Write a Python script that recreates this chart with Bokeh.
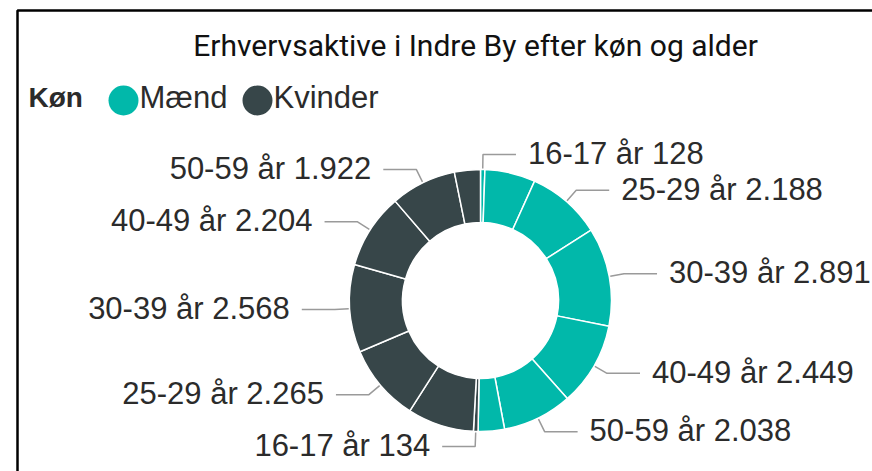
import numpy as np
from bokeh.plotting import figure
from bokeh.models import ColumnDataSource, Range1d, Label, BoxAnnotation
from bokeh.core.properties import value
from bokeh.embed import file_html
from bokeh.resources import INLINE

# ---------------- data ----------------
title_text = "Erhvervsaktive i Indre By efter køn og alder"
legend_title = "Køn"
sexes = ["Mænd", "Kvinder"]
sex_colors = ["#01B8AA", "#374649"]
age_groups = ["16-17 år", "18-24 år", "25-29 år", "30-39 år", "40-49 år", "50-59 år", "60-64 år"]
maend = [128, 1480, 2188, 2891, 2449, 2038, 770]
kvinder = [134, 1950, 2265, 2568, 2204, 1922, 760]
hidden_labels = ["18-24 år", "60-64 år"]  # labels suppressed in the original

# ---------------- layout constants ----------------
W, H = 872, 471
CX, CY = 480, 300           # donut centre in page pixels
R_OUT, R_IN = 131, 78
R_ELBOW = 146
HSEG = 33
GAP = 12

def dk(v):
    return f"{v:,}".replace(",", ".")

values = np.array(maend + kvinder, dtype=float)
colors = [sex_colors[0]] * len(maend) + [sex_colors[1]] * len(kvinder)
ages = age_groups + age_groups
frac = values / values.sum()
cum = np.concatenate([[0.0], np.cumsum(frac)]) * 2 * np.pi
t0, t1 = cum[:-1], cum[1:]          # clockwise from 12 o'clock
start = np.pi / 2 - t0
end = np.pi / 2 - t1

p = figure(width=W, height=H, x_range=Range1d(-CX, W - CX), y_range=Range1d(CY - H, CY),
           x_axis_type=None, y_axis_type=None, output_backend="svg", toolbar_location=None,
           min_border=0, outline_line_color=None, background_fill_color="white",
           border_fill_color="white")
p.grid.visible = False

wsrc = ColumnDataSource(dict(x=[0] * len(values), y=[0] * len(values), start=start, end=end,
                             color=colors))
p.annular_wedge(x="x", y="y", inner_radius=R_IN, outer_radius=R_OUT, start_angle="start",
                end_angle="end", direction="clock", fill_color="color", line_color="white",
                line_width=1.5, source=wsrc)

# leader lines and labels
mid = (t0 + t1) / 2
xs, ys = [], []
lt = dict(x=[], y=[], t=[])
rt = dict(x=[], y=[], t=[])
for i in range(len(values)):
    if ages[i] in hidden_labels:
        continue
    s, c = np.sin(mid[i]), np.cos(mid[i])
    side = 1 if s >= 0 else -1
    xo, yo = (R_OUT + 1) * s, (R_OUT + 1) * c
    xe, ye = R_ELBOW * s, R_ELBOW * c
    xh = xe + side * HSEG
    xs.append([xo, xe, xh]); ys.append([yo, ye, ye])
    d = rt if side > 0 else lt
    d["x"].append(xh + side * GAP); d["y"].append(ye + 1)
    d["t"].append(f"{ages[i]} {dk(int(values[i]))}")

p.multi_line(xs=xs, ys=ys, line_color="#9a9a9a", line_width=1.5)
for d, align in ((rt, "left"), (lt, "right")):
    p.text(x="x", y="y", text="t", source=ColumnDataSource(d), text_align=align,
           text_baseline="middle", text_font=value("Liberation Sans"), text_font_size="31px",
           text_color="#2b2b2b")

# title
p.add_layout(Label(x=475 - CX, y=CY - 45, text=title_text, text_align="center",
                   text_baseline="middle", text_font="Roboto", text_font_size="30px",
                   text_color="#111111"))

# legend (manual, Power BI style)
p.add_layout(Label(x=28 - CX, y=CY - 97, text=legend_title, text_align="left",
                   text_baseline="middle", text_font="Liberation Sans", text_font_size="28px",
                   text_font_style="bold", text_color="#2b2b2b"))
leg_dot_x = [123 - CX, 257 - CX]
leg_txt_x = [139 - CX, 273 - CX]
p.scatter(x=leg_dot_x, y=[CY - 100] * 2, size=30, marker="circle", fill_color=sex_colors,
          line_color=None)
for tx, s in zip(leg_txt_x, sexes):
    p.add_layout(Label(x=tx, y=CY - 97, text=s, text_align="left", text_baseline="middle",
                       text_font="Liberation Sans", text_font_size="31px",
                       text_color="#2b2b2b"))

# visual frame border
p.add_layout(BoxAnnotation(left=17 - CX, right=W - CX + 50, top=CY - 10, bottom=CY - H - 50,
                           fill_alpha=0, line_color="black", line_alpha=1.0, line_width=2.5))

open("out.html", "w").write(file_html(p, INLINE))
